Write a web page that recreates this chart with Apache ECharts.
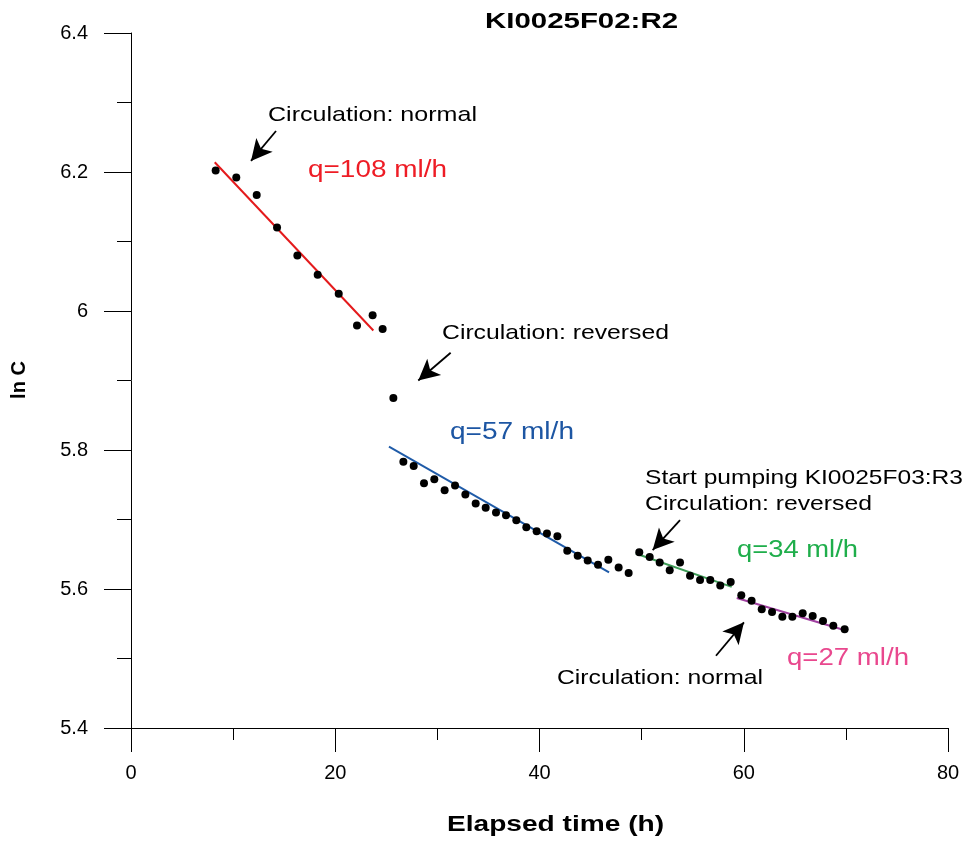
<!DOCTYPE html>
<html><head><meta charset="utf-8">
<script src="https://cdn.jsdelivr.net/npm/echarts@6/dist/echarts.min.js"></script>
<style>html,body{margin:0;padding:0;background:#fff}#c{width:973px;height:843px}</style>
</head><body><div id="c"></div>
<script>
// ---- data ----
const elapsedTime = [8.29,10.31,12.31,14.30,16.29,18.28,20.34,22.13,23.66,24.64,25.69,
  26.67,27.68,28.69,29.70,30.71,31.73,32.74,33.75,34.73,35.74,36.72,37.73,38.71,39.72,40.73,41.75,42.72,43.74,44.72,45.73,46.74,47.75,48.73,
  49.77,50.79,51.77,52.75,53.76,54.74,55.72,56.72,57.70,58.72,
  59.76,60.77,61.76,62.77,63.78,64.76,65.77,66.75,67.76,68.77,69.88];
const lnC = [6.202,6.192,6.167,6.120,6.080,6.052,6.025,5.979,5.994,5.974,5.875,
  5.783,5.777,5.752,5.758,5.742,5.749,5.736,5.723,5.717,5.710,5.706,5.699,5.689,5.683,5.680,5.676,5.655,5.648,5.641,5.635,5.642,5.631,5.623,
  5.653,5.646,5.638,5.627,5.638,5.619,5.613,5.613,5.605,5.610,
  5.591,5.583,5.571,5.567,5.560,5.560,5.565,5.561,5.554,5.547,5.542];
const fit108 = [[8.2,6.214],[23.73,5.972]];
const fit57  = [[25.26,5.805],[46.81,5.624]];
const fit34  = [[49.42,5.651],[58.82,5.603]];
const fit27  = [[59.31,5.587],[69.82,5.541]];
// arrows: [tail, tip] in data coordinates
const arrows = [
  [[14.20,6.259],[11.75,6.216]],
  [[31.30,5.940],[28.13,5.900]],
  [[53.76,5.699],[51.08,5.656]],
  [[57.28,5.504],[60.02,5.552]]
];
const xTickLabels = ['0','20','40','60','80'];
const yTickLabels = ['5.4','5.6','5.8','6','6.2','6.4'];

// ---- chart ----
const chart = echarts.init(document.getElementById('c'), null, {renderer:'canvas'});
const FONT = '"Liberation Sans", Arial, Helvetica, sans-serif';
const mctx = document.createElement('canvas').getContext('2d');
function label(text, left, cy, width, size, color, bold) {
  const font = (bold ? 'bold ' : '') + size + 'px ' + FONT;
  mctx.font = font;
  const w = mctx.measureText(text).width;
  return {type:'text', x:left, y:cy + 2, scaleX: width / w, silent:true, z:100,
    style:{text, font, fill:color, align:'left', verticalAlign:'middle', textAlign:'left', textVerticalAlign:'middle'}};
}
const RED='#e41a1c', BLUE='#1f5ba8', GREEN='#3d9b56', PURPLE='#a040a0';
function fitSeries(d, color){
  return {type:'line', data:d, symbol:'none', lineStyle:{color, width:2}, z:2, animation:false, silent:true};
}
chart.setOption({
  animation:false,
  backgroundColor:'#fff',
  grid:{left:131, right:25, top:33, bottom:115},
  xAxis:{type:'value', min:0, max:80, interval:20,
    axisLine:{show:true, onZero:false, lineStyle:{color:'#000', width:1}},
    axisTick:{show:true, inside:false, length:24, lineStyle:{color:'#000'}},
    minorTick:{show:true, splitNumber:2, length:12, lineStyle:{color:'#000'}},
    splitLine:{show:false},
    axisLabel:{margin:35, color:'#000', fontSize:20, fontFamily:FONT,
      formatter:v=>xTickLabels[Math.round(v/20)]}},
  yAxis:{type:'value', min:5.4, max:6.4, interval:0.2,
    axisLine:{show:true, onZero:false, lineStyle:{color:'#000', width:1}},
    axisTick:{show:true, inside:false, length:27, lineStyle:{color:'#000'}},
    minorTick:{show:true, splitNumber:2, length:14, lineStyle:{color:'#000'}},
    splitLine:{show:false},
    axisLabel:{margin:43, color:'#000', fontSize:20, fontFamily:FONT,
      formatter:v=>yTickLabels[Math.round((v-5.4)/0.2)]}},
  series:[
    fitSeries(fit108, RED), fitSeries(fit57, BLUE), fitSeries(fit34, GREEN), fitSeries(fit27, PURPLE),
    {type:'scatter', data:elapsedTime.map((t,i)=>[t,lnC[i]]), symbolSize:8, itemStyle:{color:'#000', opacity:1}, z:5, silent:true,
      markLine:{silent:true, animation:false, symbol:['none','arrow'], symbolSize:[16,21],
        lineStyle:{color:'#000', width:1.8, type:'solid', opacity:1}, label:{show:false}, emphasis:{disabled:true},
        data:arrows.map(a=>[{coord:a[0]},{coord:a[1]}])}}
  ],
  graphic:[
    label('KI0025F02:R2', 485, 20, 193, 22, '#000', true),
    label('Elapsed time (h)', 447, 823, 217, 22, '#000', true),
    {type:'text', x:19, y:380, rotation:Math.PI/2, silent:true,
      style:{text:'ln C', font:'bold 20px '+FONT, fill:'#000', align:'center', verticalAlign:'middle', textAlign:'center', textVerticalAlign:'middle'}},
    label('Circulation: normal', 268, 113.5, 209, 21, '#000'),
    label('q=108 ml/h', 308, 169, 139, 23, '#ee1c25'),
    label('Circulation: reversed', 442, 331, 227, 21, '#000'),
    label('q=57 ml/h', 450, 431, 124, 23, '#1d56a3'),
    label('Start pumping KI0025F03:R3', 645, 476, 318, 21, '#000'),
    label('Circulation: reversed', 645, 502, 227, 21, '#000'),
    label('q=34 ml/h', 737, 549, 121, 23, '#1fae4b'),
    label('Circulation: normal', 557, 676, 206, 21, '#000'),
    label('q=27 ml/h', 787, 657, 122, 23, '#e9488e')
  ]
});
</script></body></html>
